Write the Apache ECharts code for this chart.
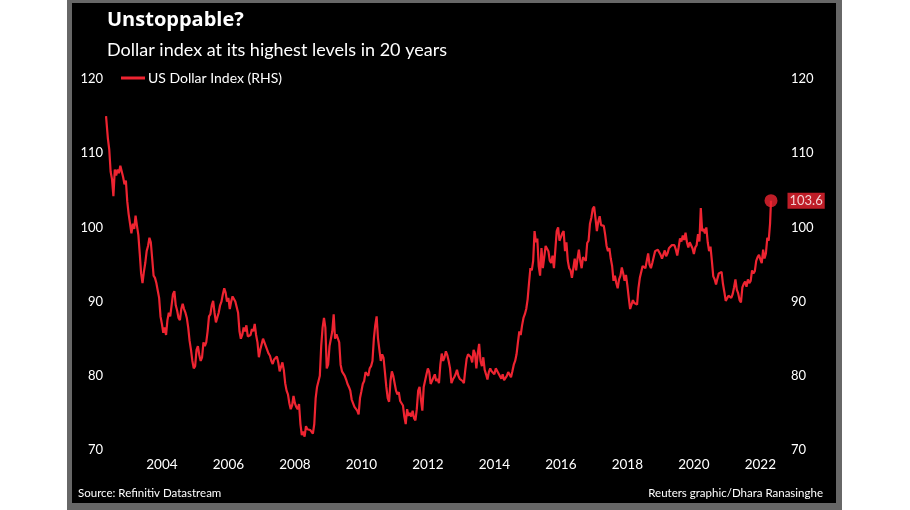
<!DOCTYPE html>
<html><head><meta charset="utf-8">
<script src="https://cdn.jsdelivr.net/npm/echarts@6/dist/echarts.min.js"></script>
<style>html,body{margin:0;padding:0;background:#fff}#c{width:910px;height:510px}</style>
</head><body><div id="c"></div>
<script>
// ---- text ----
const seriesName = 'US Dollar Index (RHS)';
const titleText = 'Unstoppable?';
const subtitleText = 'Dollar index at its highest levels in 20 years';
const sourceText = 'Source: Refinitiv Datastream';
const creditText = 'Reuters graphic/Dhara Ranasinghe';

// ---- axes ----
const yTicks = [70, 80, 90, 100, 110, 120];
const yearLabels = [2004, 2006, 2008, 2010, 2012, 2014, 2016, 2018, 2020, 2022];

// ---- data: semi-monthly readings (1st and 16th of each month) ----
const firstPoint = [2002.32, 115.0];
const lastPoint = [2022.32, 103.6];
const dxy2002 = [112.0, 110.5, 107.5, 106.5, 104.2, 107.8, 107.0, 107.8, 107.3, 108.3, 108.5, 106.8, 105.8, 106.3, 103.5]; // from mid-May
const dxy2003 = [101.8, 100.5, 99.2, 100.5, 99.8, 101.6, 100.2, 99.0, 96.5, 93.8, 92.5, 94.0, 95.2, 96.8, 97.5, 98.6, 98.0, 95.8, 93.5, 93.2, 92.5, 91.5, 90.5, 88.0];
const dxy2004 = [87.0, 85.8, 86.5, 85.5, 87.5, 88.5, 88.0, 89.5, 91.0, 91.4, 89.5, 88.8, 87.8, 87.5, 89.0, 89.7, 89.0, 88.5, 87.8, 86.5, 84.7, 83.5, 82.0, 81.0];
const dxy2005 = [81.3, 83.5, 84.0, 82.8, 82.0, 82.5, 84.5, 84.0, 84.5, 86.0, 88.0, 88.3, 89.5, 90.1, 88.5, 87.2, 87.0, 88.5, 89.5, 90.0, 91.0, 91.8, 91.2, 90.0];
const dxy2006 = [90.5, 89.0, 90.0, 90.7, 90.5, 90.0, 89.8, 88.5, 86.0, 85.0, 85.5, 86.5, 86.0, 86.8, 85.3, 85.5, 85.5, 86.3, 86.0, 87.0, 85.5, 84.5, 82.5, 83.5];
const dxy2007 = [83.5, 85.0, 85.0, 84.0, 83.5, 83.0, 82.7, 82.0, 81.6, 82.2, 82.4, 82.6, 81.8, 80.6, 80.5, 81.8, 80.8, 79.0, 78.0, 77.5, 76.3, 75.5, 76.0, 77.3];
const dxy2008 = [76.3, 75.8, 75.5, 76.2, 73.5, 72.0, 72.5, 71.8, 73.2, 72.8, 73.0, 72.7, 72.5, 72.2, 73.5, 77.0, 78.5, 78.5, 80.0, 84.0, 86.5, 87.8, 86.5, 81.0];
const dxy2009 = [81.5, 84.0, 85.0, 86.0, 88.3, 85.0, 85.6, 85.5, 84.5, 81.5, 80.6, 80.3, 80.0, 79.5, 78.9, 78.5, 78.0, 76.8, 76.6, 75.8, 75.9, 75.3, 74.8, 77.0];
const dxy2010 = [77.9, 78.9, 79.3, 80.5, 80.6, 80.0, 81.0, 81.3, 82.0, 85.0, 86.8, 88.0, 85.0, 83.5, 82.0, 82.9, 82.4, 80.5, 78.5, 77.0, 76.5, 79.3, 80.6, 80.0];
const dxy2011 = [79.0, 78.0, 77.5, 77.8, 76.6, 76.5, 76.0, 74.5, 73.5, 75.5, 74.6, 75.0, 74.5, 75.3, 74.3, 74.0, 75.5, 78.0, 78.5, 76.8, 75.3, 78.5, 78.5, 80.2];
const dxy2012 = [81.0, 80.5, 78.9, 79.3, 79.5, 80.2, 79.3, 79.6, 79.0, 81.5, 83.0, 82.0, 82.5, 83.3, 82.8, 82.0, 81.0, 79.0, 79.5, 79.8, 80.2, 80.8, 80.0, 79.6];
const dxy2013 = [79.6, 79.3, 79.0, 80.8, 82.3, 82.9, 82.8, 82.5, 81.8, 83.5, 83.0, 81.0, 83.0, 84.3, 82.0, 81.3, 82.5, 80.8, 80.2, 79.5, 80.5, 81.0, 80.6, 80.4];
const dxy2014 = [80.2, 81.0, 81.2, 80.3, 80.2, 79.6, 80.2, 79.4, 79.3, 80.0, 80.5, 80.5, 79.8, 80.6, 81.5, 82.0, 82.9, 84.5, 86.0, 85.5, 86.8, 87.8, 88.3, 89.0];
const dxy2015 = [90.3, 92.5, 94.5, 94.2, 95.5, 99.5, 98.0, 98.5, 94.8, 93.5, 97.2, 94.5, 96.0, 97.5, 97.3, 96.8, 95.5, 95.2, 96.2, 94.5, 97.0, 99.5, 100.0, 98.2];
const dxy2016 = [98.7, 99.2, 99.5, 96.8, 98.0, 95.5, 94.5, 94.2, 93.2, 94.5, 95.8, 94.2, 95.8, 97.0, 95.5, 94.5, 96.0, 96.0, 95.5, 97.9, 98.2, 100.5, 101.3, 102.5];
const dxy2017 = [102.8, 101.2, 99.5, 100.8, 101.5, 100.3, 100.5, 100.2, 99.0, 97.5, 96.8, 97.2, 95.8, 94.8, 92.8, 93.5, 92.5, 91.8, 93.0, 93.5, 94.6, 93.8, 92.8, 93.6];
const dxy2018 = [92.2, 90.5, 89.0, 88.8, 90.2, 89.8, 90.0, 89.6, 91.8, 93.2, 94.0, 94.8, 94.6, 94.5, 94.6, 96.5, 95.0, 94.5, 95.2, 95.4, 96.8, 96.8, 97.0, 97.2];
const dxy2019 = [96.3, 95.8, 95.6, 96.9, 96.1, 96.5, 97.2, 97.0, 97.6, 97.8, 97.6, 97.0, 96.2, 97.3, 98.5, 98.1, 98.9, 98.3, 99.3, 98.0, 97.3, 98.0, 98.2, 97.2];
const dxy2020 = [96.4, 97.3, 97.6, 99.1, 98.1, 102.6, 99.5, 99.8, 99.2, 100.0, 98.0, 96.8, 97.4, 95.5, 93.4, 93.0, 92.3, 93.1, 93.8, 93.6, 94.0, 92.4, 91.3, 90.1];
const dxy2021 = [89.9, 90.8, 91.0, 90.5, 91.0, 91.9, 93.0, 91.6, 91.1, 90.2, 89.9, 91.9, 92.4, 92.7, 92.0, 93.0, 92.5, 92.8, 94.2, 93.8, 94.1, 95.5, 96.0, 96.3];
const dxy2022 = [95.7, 95.2, 97.0, 95.8, 96.5, 98.6, 98.2, 100.5]; // to mid-April

const yearRows = [
  [2002, 9, dxy2002], [2003, 0, dxy2003], [2004, 0, dxy2004], [2005, 0, dxy2005],
  [2006, 0, dxy2006], [2007, 0, dxy2007], [2008, 0, dxy2008], [2009, 0, dxy2009],
  [2010, 0, dxy2010], [2011, 0, dxy2011], [2012, 0, dxy2012], [2013, 0, dxy2013],
  [2014, 0, dxy2014], [2015, 0, dxy2015], [2016, 0, dxy2016], [2017, 0, dxy2017],
  [2018, 0, dxy2018], [2019, 0, dxy2019], [2020, 0, dxy2020], [2021, 0, dxy2021],
  [2022, 0, dxy2022]
];
const lineData = [firstPoint];
yearRows.forEach(([yr, start, vals]) => vals.forEach((v, i) => lineData.push([yr + (start + i) / 24, v])));
lineData.push(lastPoint);

const RED = '#ee2431';
const FONT = 'Lato';

const chart = echarts.init(document.getElementById('c'), null, {renderer: 'canvas'});
chart.setOption({
  animation: false,
  backgroundColor: '#ffffff',
  textStyle: {fontFamily: FONT},
  graphic: [
    {type: 'rect', z: -10, silent: true, shape: {x: 67, y: 0, width: 775, height: 510}, style: {fill: '#676767'}},
    {type: 'rect', z: -9, silent: true, shape: {x: 72, y: 3, width: 764, height: 500}, style: {fill: '#000000'}},
    {type: 'text', z: 10, left: 107, top: 10, style: {text: titleText, fill: '#ffffff', font: 'bold 20px "Open Sans"'}},
    {type: 'text', z: 10, left: 107, top: 41, style: {text: subtitleText, fill: '#ffffff', font: '18px ' + FONT}},
    {type: 'text', z: 10, left: 78, top: 487, style: {text: sourceText, fill: '#ffffff', font: '11.5px ' + FONT}},
    {type: 'text', z: 10, right: 87, top: 487, style: {text: creditText, fill: '#ffffff', font: '11.5px ' + FONT}}
  ],
  legend: {
    left: 121, top: 71, padding: 0, icon: 'rect', itemWidth: 24, itemHeight: 3, itemGap: 5,
    data: [seriesName],
    textStyle: {color: '#ffffff', fontSize: 14, fontFamily: FONT, padding: [0, 0, 0, -2]}
  },
  grid: {left: 95.4, right: 139, top: 79, bottom: 60},
  xAxis: {
    type: 'value', min: 2002, max: lastPoint[0], interval: 2,
    axisLine: {show: false}, axisTick: {show: false}, splitLine: {show: false},
    axisLabel: {
      color: '#ffffff', fontSize: 13.5, margin: 8, fontFamily: FONT,
      showMinLabel: true, showMaxLabel: true,
      formatter: v => (yearLabels.indexOf(Math.round(v)) >= 0 && Math.abs(v - Math.round(v)) < 1e-6) ? String(Math.round(v)) : ''
    }
  },
  yAxis: [
    {
      type: 'value', position: 'left', min: yTicks[0], max: yTicks[yTicks.length - 1], interval: 10, offset: -10.6,
      axisLine: {show: false}, axisTick: {show: false}, splitLine: {show: false},
      axisLabel: {color: '#ffffff', fontSize: 13, margin: 3, fontFamily: FONT}
    },
    {
      type: 'value', position: 'right', min: yTicks[0], max: yTicks[yTicks.length - 1], interval: 10,
      axisLine: {show: false}, axisTick: {show: false}, splitLine: {show: false},
      axisLabel: {color: '#ffffff', fontSize: 13, margin: 20, fontFamily: FONT}
    }
  ],
  series: [
    {
      name: seriesName, type: 'line', yAxisIndex: 1, data: lineData,
      showSymbol: false, symbol: 'none', lineStyle: {color: RED, width: 2.2}, itemStyle: {color: RED}, z: 3
    },
    {
      name: 'last', type: 'scatter', yAxisIndex: 1, data: [lastPoint], symbolSize: 13,
      itemStyle: {color: RED}, z: 4,
      label: {
        show: true, position: 'right', distance: 10,
        formatter: p => p.value[1].toFixed(1),
        color: '#ffffff', backgroundColor: RED, padding: [2, 2, 1, 2], fontSize: 13, fontFamily: FONT
      }
    }
  ]
});
</script></body></html>
